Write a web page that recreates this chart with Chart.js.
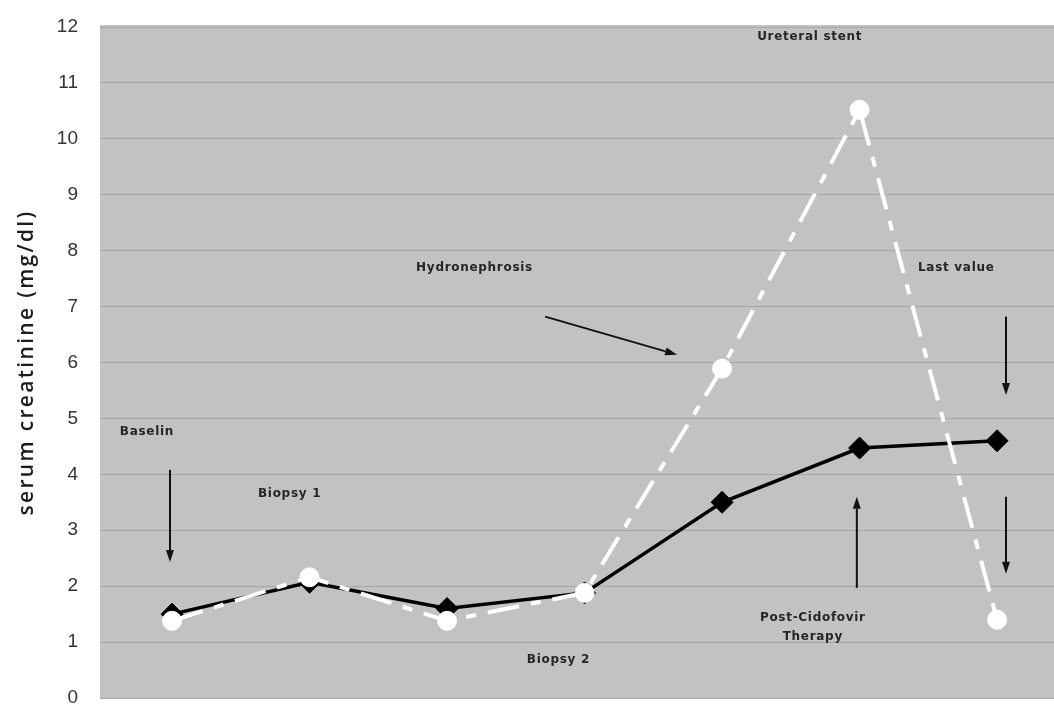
<!DOCTYPE html>
<html>
<head>
<meta charset="utf-8">
<script src="https://cdn.jsdelivr.net/npm/chart.js@4/dist/chart.umd.min.js"></script>
<style>
html,body{margin:0;padding:0;background:#fff;overflow:hidden;}
#wrap{width:1054px;height:705px;position:relative;}
</style>
</head>
<body>
<div id="wrap"><canvas id="c" width="1054" height="705"></canvas></div>
<script>
// Time points (unlabelled on the x axis)
const timepoints = [1, 2, 3, 4, 5, 6, 7];
// Series: black diamonds (solid) and white circles (dashed)
const seriesBlack = [1.5, 2.07, 1.6, 1.88, 3.5, 4.47, 4.6];
const seriesWhite = [1.38, 2.16, 1.38, 1.88, 5.89, 10.52, 1.4];
const yTicks = [0,1,2,3,4,5,6,7,8,9,10,11,12];
const yTitle = 'serum creatinine (mg/dl)';

// Annotation labels and arrows (in data coordinates)
const noteTexts = ['Baselin','Biopsy 1','Biopsy 2','Hydronephrosis','Ureteral stent','Last value','Post-Cidofovir','Therapy'];
const noteX = [0.62, 1.625, 3.58, 2.775, 5.255, 6.425, 5.66, 5.66];
const noteY = [4.76, 3.65, 0.68, 7.69, 11.82, 7.69, 1.43, 1.09];
const noteAlign = ['left','left','left','left','left','left','center','center'];
const arrowFrom = [[0.985, 4.08],[3.713, 6.82],[7.065, 6.82],[7.065, 3.6],[5.98, 1.97]];
const arrowTo   = [[0.985, 2.43],[4.673, 6.14],[7.065, 5.42],[7.065, 2.22],[5.98, 3.6]];

const toXY = (xs, ys) => xs.map((x, i) => ({x: x, y: ys[i]}));

const bgPlugin = {
  id: 'bg',
  beforeDraw(chart) {
    const {ctx, chartArea: a} = chart;
    ctx.save();
    ctx.fillStyle = '#c2c2c2';
    ctx.fillRect(a.left, a.top - 2, a.right - a.left, a.bottom - a.top + 2);
    ctx.restore();
  }
};

const titlePlugin = {
  id: 'ytitle',
  afterDraw(chart) {
    const ctx = chart.ctx;
    const a = chart.chartArea;
    ctx.save();
    ctx.font = '600 21px "Open Sans", "Liberation Sans", sans-serif';
    const w0 = ctx.measureText(yTitle).width;
    const target = 306;
    ctx.letterSpacing = Math.max(0, (target - w0) / yTitle.length) + 'px';
    ctx.fillStyle = '#1c1c1c';
    ctx.translate(27, (a.top + a.bottom) / 2);
    ctx.rotate(-Math.PI / 2);
    ctx.textAlign = 'center';
    ctx.textBaseline = 'middle';
    ctx.fillText(yTitle, 0, 0);
    ctx.restore();
  }
};

const notesPlugin = {
  id: 'notes',
  afterDatasetsDraw(chart) {
    const ctx = chart.ctx;
    const xs = chart.scales.x, ys = chart.scales.y;
    ctx.save();
    ctx.fillStyle = '#262626';
    ctx.font = 'bold 12px "DejaVu Sans", sans-serif';
    ctx.letterSpacing = '0.7px';
    ctx.textBaseline = 'middle';
    noteTexts.forEach((t, i) => {
      ctx.textAlign = noteAlign[i];
      ctx.fillText(t, xs.getPixelForValue(noteX[i]), ys.getPixelForValue(noteY[i]));
    });
    ctx.strokeStyle = '#111';
    ctx.fillStyle = '#111';
    ctx.lineWidth = 2;
    arrowFrom.forEach((f, i) => {
      const x1 = xs.getPixelForValue(f[0]), y1 = ys.getPixelForValue(f[1]);
      const x2 = xs.getPixelForValue(arrowTo[i][0]), y2 = ys.getPixelForValue(arrowTo[i][1]);
      const ang = Math.atan2(y2 - y1, x2 - x1);
      const hl = 12, hw = 4;
      const bx = x2 - hl * Math.cos(ang), by = y2 - hl * Math.sin(ang);
      ctx.beginPath();
      ctx.moveTo(x1, y1);
      ctx.lineTo(bx, by);
      ctx.stroke();
      ctx.beginPath();
      ctx.moveTo(x2, y2);
      ctx.lineTo(bx + hw * Math.sin(ang), by - hw * Math.cos(ang));
      ctx.lineTo(bx - hw * Math.sin(ang), by + hw * Math.cos(ang));
      ctx.closePath();
      ctx.fill();
    });
    ctx.restore();
  }
};

new Chart(document.getElementById('c'), {
  type: 'line',
  data: {
    datasets: [
      {
        label: 'white',
        data: toXY(timepoints, seriesWhite),
        borderColor: '#ffffff',
        borderWidth: 4,
        borderDash: [32, 12, 10, 12],
        pointStyle: 'circle',
        pointRadius: 9.5,
        pointBackgroundColor: '#ffffff',
        pointBorderColor: '#ffffff',
        pointBorderWidth: 1,
        tension: 0
      },
      {
        label: 'black',
        data: toXY(timepoints, seriesBlack),
        borderColor: '#000000',
        borderWidth: 3.5,
        pointStyle: 'rectRot',
        pointRadius: 11,
        pointBackgroundColor: '#000000',
        pointBorderColor: '#000000',
        pointBorderWidth: 1,
        tension: 0
      }
    ]
  },
  options: {
    responsive: false,
    animation: false,
    layout: {autoPadding: false, padding: {top: 27, bottom: 7, right: 0, left: 0}},
    plugins: {legend: {display: false}, tooltip: {enabled: false}},
    scales: {
      x: {
        type: 'linear',
        min: 0.476,
        max: 7.414,
        display: false
      },
      y: {
        min: 0,
        max: 12,
        afterBuildTicks(scale) { scale.ticks = yTicks.map(v => ({value: v})); },
        afterFit(scale) {
          scale.width = 100;
          scale.paddingTop = 0;
          scale.paddingBottom = 0;
        },
        grid: {color: '#a6a6a6', lineWidth: 1, drawTicks: false},
        border: {display: false},
        ticks: {
          color: '#333',
          padding: 22,
          font: {family: '"Liberation Sans", Arial, sans-serif', size: 19}
        },
        title: {display: false}
      }
    }
  },
  plugins: [bgPlugin, notesPlugin, titlePlugin]
});
</script>
</body>
</html>
